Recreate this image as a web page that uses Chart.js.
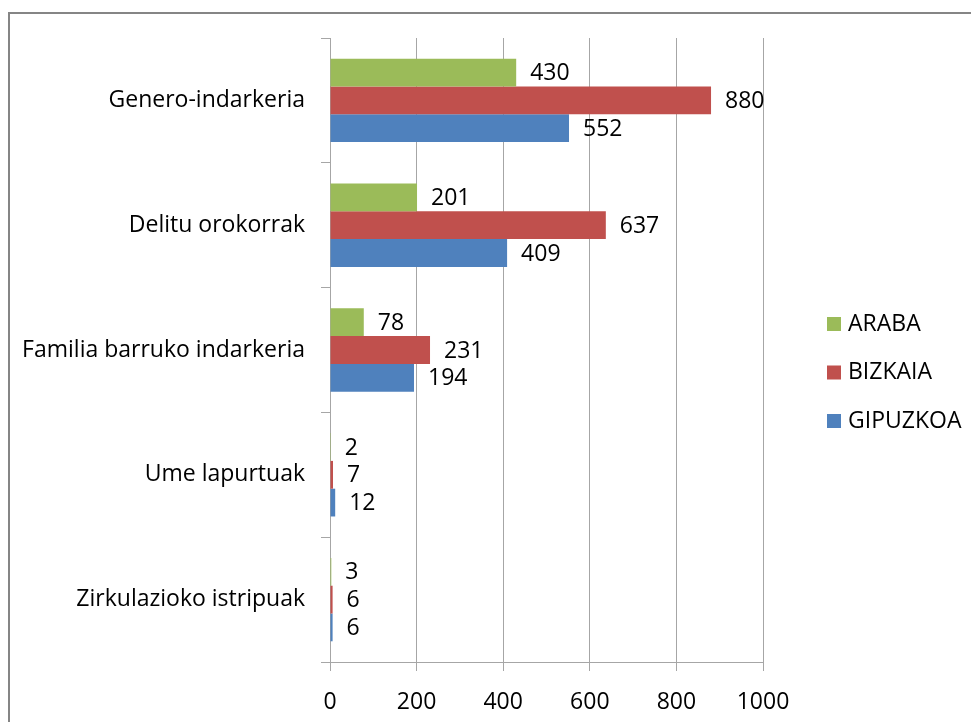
<!DOCTYPE html>
<html>
<head>
<meta charset="utf-8">
<script src="https://cdn.jsdelivr.net/npm/chart.js@4/dist/chart.umd.min.js"></script>
<style>
  html, body { margin: 0; padding: 0; background: #ffffff; }
  #wrap { position: relative; width: 971px; height: 722px; }
</style>
</head>
<body>
<div id="wrap"><canvas id="c" width="971" height="722"></canvas></div>
<script>
const categories = ['Genero-indarkeria', 'Delitu orokorrak', 'Familia barruko indarkeria', 'Ume lapurtuak', 'Zirkulazioko istripuak'];
const seriesNames = ['ARABA', 'BIZKAIA', 'GIPUZKOA'];
const araba = [430, 201, 78, 2, 3];
const bizkaia = [880, 637, 231, 7, 6];
const gipuzkoa = [552, 409, 194, 12, 6];
const xTickMin = 0;
const xTickMax = 1000;
const xTickStep = 200;

const colors = ['#9BBB59', '#C0504D', '#4F81BD'];
const FONT = "'Open Sans', 'Noto Sans', sans-serif";
const FS = 23;

const framePlugin = {
  id: 'frame',
  beforeDraw(chart) {
    const ctx = chart.ctx;
    ctx.save();
    ctx.fillStyle = '#ffffff';
    ctx.fillRect(0, 0, chart.width, chart.height);
    ctx.strokeStyle = '#858585';
    ctx.lineWidth = 2;
    ctx.strokeRect(9, 13, 1200, 1200);
    ctx.restore();
  }
};

const valueLabels = {
  id: 'valueLabels',
  afterDatasetsDraw(chart) {
    const ctx = chart.ctx;
    ctx.save();
    ctx.font = FS + 'px ' + FONT;
    ctx.fillStyle = '#000000';
    ctx.textAlign = 'left';
    ctx.textBaseline = 'middle';
    chart.data.datasets.forEach((ds, i) => {
      const meta = chart.getDatasetMeta(i);
      meta.data.forEach((el, j) => {
        ctx.fillText(String(ds.data[j]), el.x + 14, el.y + 1);
      });
    });
    ctx.restore();
  }
};

const sideLegend = {
  id: 'sideLegend',
  afterDraw(chart) {
    const ctx = chart.ctx;
    ctx.save();
    ctx.font = FS + 'px ' + FONT;
    ctx.textAlign = 'left';
    ctx.textBaseline = 'middle';
    const x0 = 827, y0 = 324, gap = 48.5;
    chart.data.datasets.forEach((ds, i) => {
      const y = y0 + i * gap;
      ctx.fillStyle = ds.backgroundColor;
      ctx.fillRect(x0, y - 7, 14, 14);
      ctx.fillStyle = '#000000';
      ctx.fillText(ds.label, x0 + 21, y);
    });
    ctx.restore();
  }
};

new Chart(document.getElementById('c'), {
  type: 'bar',
  data: {
    labels: categories,
    datasets: [
      { label: seriesNames[0], data: araba, backgroundColor: colors[0] },
      { label: seriesNames[1], data: bizkaia, backgroundColor: colors[1] },
      { label: seriesNames[2], data: gipuzkoa, backgroundColor: colors[2] }
    ]
  },
  options: {
    indexAxis: 'y',
    responsive: false,
    animation: false,
    devicePixelRatio: 1,
    datasets: { bar: { categoryPercentage: 0.668, barPercentage: 1.0, borderWidth: 0 } },
    layout: { padding: { top: 38, right: 208, bottom: 0, left: 0 } },
    plugins: { legend: { display: false }, tooltip: { enabled: false } },
    scales: {
      x: {
        min: xTickMin,
        max: xTickMax,
        ticks: { stepSize: xTickStep, color: '#000000', font: { family: FONT, size: FS }, padding: 18, maxRotation: 0,
                 callback: (v) => String(v) },
        grid: { color: '#a6a6a6', lineWidth: 1, tickLength: 9, drawTicks: true },
        border: { color: '#a6a6a6', width: 1 },
        afterFit(s) { s.height = 60; }
      },
      y: {
        ticks: { color: '#000000', font: { family: FONT, size: FS }, padding: 16 },
        grid: { drawOnChartArea: false, color: '#a6a6a6', tickLength: 9, offset: true },
        border: { color: '#a6a6a6', width: 1 },
        afterFit(s) { s.width = 330; }
      }
    }
  },
  plugins: [framePlugin, valueLabels, sideLegend]
});
</script>
</body>
</html>
